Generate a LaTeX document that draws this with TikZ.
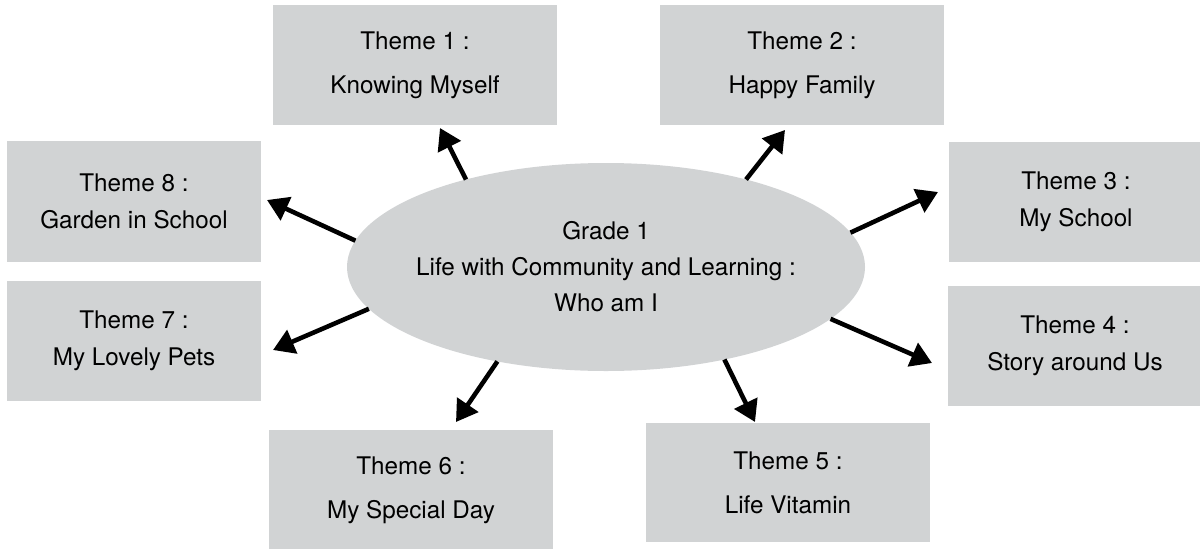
\documentclass[tikz,border=0pt]{standalone}
\usepackage{fontspec}
\setmainfont{TeX Gyre Heros}
\usetikzlibrary{shapes.geometric,arrows.meta}
\definecolor{themegray}{RGB}{209,211,212}
\begin{document}
\begin{tikzpicture}[
        theme/.style={fill=themegray,minimum width=5.68cm,minimum height=2.4cm,inner sep=0pt,outer sep=0pt,align=center,font=\fontsize{13.8}{21}\selectfont},
        narrow/.style={minimum width=5.08cm},
        tall/.style={font=\fontsize{13.8}{25}\selectfont},
        link/.style={-{Triangle[length=0.42cm,width=0.5cm]},line width=2.6pt}
    ]
        \useasboundingbox (0,0) rectangle (24,10.96);
        % centre
        \node[ellipse,fill=themegray,minimum width=10.36cm,minimum height=4.16cm,inner sep=0pt,outer sep=0pt] (grade) at (12.12,5.62) {};
        \node[align=center,font=\fontsize{13.8}{20.5}\selectfont] (gradetext) at (grade.center) {Grade 1\\Life with Community and Learning :\\Who am I};
        % themes
        \node[theme,tall] (t1) at (8.30,9.66) {Theme 1 :\\Knowing Myself};
        \node[theme,tall] (t2) at (16.04,9.66) {Theme 2 :\\Happy Family};
        \node[theme,narrow] (t3) at (21.52,6.93) {Theme 3 :\\My School};
        \node[theme,narrow] (t4) at (21.50,4.04) {Theme 4 :\\Story around Us};
        \node[theme,tall,minimum height=2.38cm] (t5) at (15.76,1.31) {Theme 5 :\\Life Vitamin};
        \node[theme,tall] (t6) at (8.22,1.16) {Theme 6 :\\My Special Day};
        \node[theme,narrow] (t7) at (2.68,4.14) {Theme 7 :\\My Lovely Pets};
        \node[theme,narrow,minimum height=2.42cm] (t8) at (2.68,6.93) {Theme 8 :\\Garden in School};
        % arrow tips
        \coordinate (a1) at (8.80,8.40);
        \coordinate (a2) at (15.70,8.36);
        \coordinate (a3) at (18.76,7.12);
        \coordinate (a4) at (18.64,3.70);
        \coordinate (a5) at (15.10,2.52);
        \coordinate (a6) at (9.12,2.52);
        \coordinate (a7) at (5.46,3.96);
        \coordinate (a8) at (5.34,6.96);
        \draw[link] (grade.148) -- (a1);
        \draw[link] (grade.32) -- (a2);
        \draw[link] (grade.8) -- (a3);
        \draw[link] (grade.347) -- (a4);
        \draw[link] (grade.322) -- (a5);
        \draw[link] (grade.221) -- (a6);
        \draw[link] (grade.190) -- (a7);
        \draw[link] (grade.174) -- (a8);
    \end{tikzpicture}
\end{document}
